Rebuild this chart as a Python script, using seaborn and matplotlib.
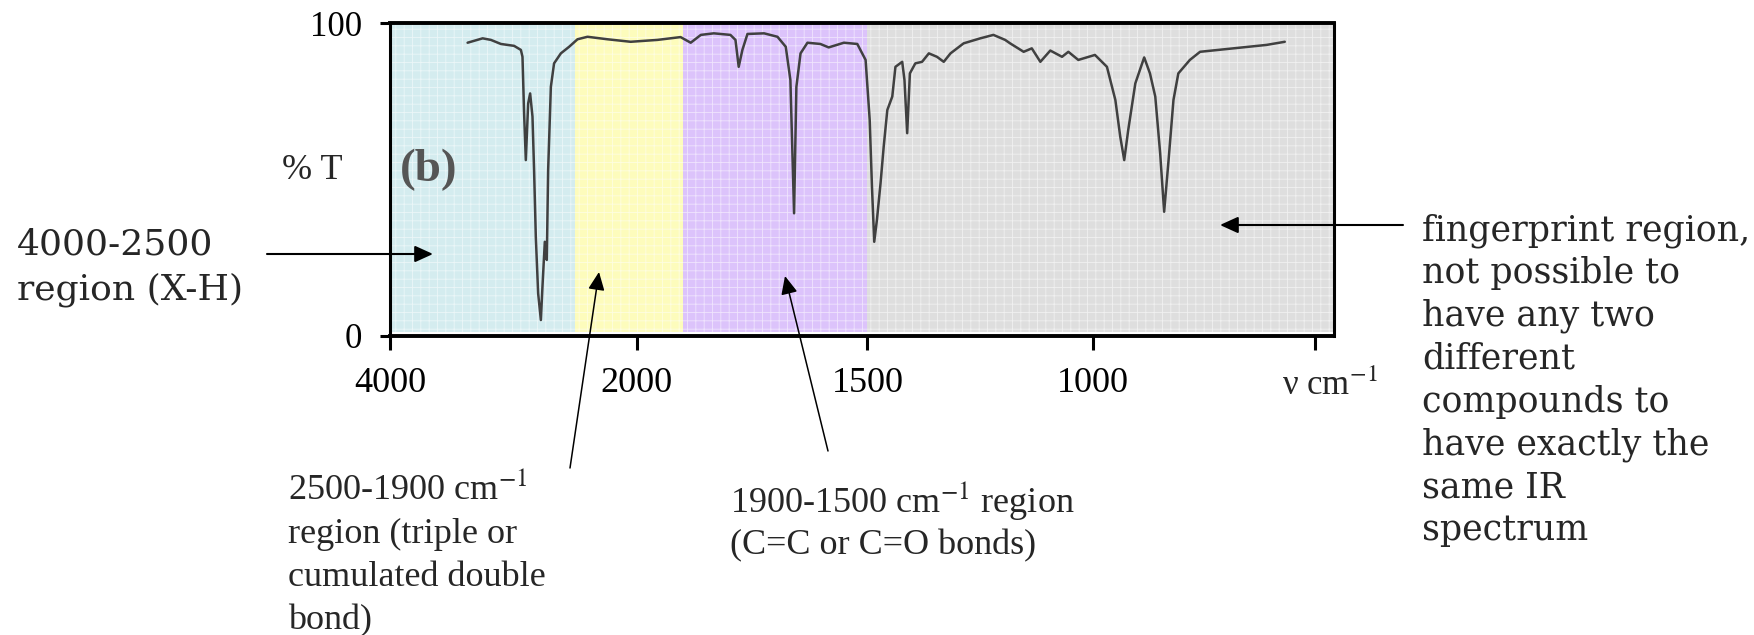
import numpy as np
import pandas as pd
import matplotlib
matplotlib.use('Agg')
import matplotlib.pyplot as plt
import seaborn as sns
from matplotlib.patches import FancyArrowPatch

# spectrum (cm-1, %T)
wavenumber = [3371, 3249, 3182, 3101, 2994, 2939, 2926, 2913, 2899, 2880, 2864, 2845,
              2832, 2818, 2799, 2777, 2764, 2745, 2729, 2718, 2696, 2670, 2615, 2548,
              2480, 2399, 2237, 2049, 1955, 1905, 1883, 1861, 1833, 1797, 1786, 1779,
              1771, 1760, 1724, 1695, 1677, 1667, 1659, 1654, 1645, 1630, 1602, 1584,
              1551, 1522, 1504, 1495, 1490, 1485, 1479, 1471, 1464, 1456, 1445, 1438,
              1423, 1418, 1412, 1406, 1394, 1379, 1364, 1346, 1331, 1316, 1287, 1250,
              1221, 1195, 1184, 1154, 1136, 1117, 1095, 1069, 1055, 1033, 996, 969,
              950, 939, 930, 921, 905, 885, 872, 860, 849, 840, 830, 819,
              808, 782, 759, 684, 609, 568]
transmittance = [93.7, 95.1, 94.6, 93.3, 92.7, 91.4, 89.2, 71.2, 56.2, 74.3, 77.5, 70.1,
                 53.0, 31.7, 13.6, 5.1, 15.8, 30.1, 24.3, 53.0, 79.6, 87.1, 90.3, 92.4,
                 94.8, 95.6, 94.8, 94.0, 94.6, 95.5, 93.7, 96.2, 96.7, 96.2, 94.6, 86.0,
                 91.4, 96.5, 96.7, 95.6, 92.4, 81.8, 39.2, 79.6, 90.3, 93.7, 93.3, 92.2,
                 93.7, 93.3, 88.2, 69.0, 47.7, 30.1, 37.1, 48.8, 60.5, 72.2, 76.5, 86.0,
                 87.6, 81.8, 64.8, 83.9, 87.1, 87.6, 90.3, 89.2, 87.6, 90.3, 93.5, 95.1,
                 96.2, 94.6, 93.5, 90.8, 91.9, 87.6, 91.2, 89.2, 90.8, 88.2, 89.8, 86.0,
                 75.4, 63.7, 56.2, 65.8, 80.7, 89.0, 83.9, 76.5, 58.4, 39.7, 56.2, 75.4,
                 83.9, 88.2, 90.8, 91.9, 93.0, 94.0]

region_edges = [4000, 2500, 1900, 1500, 457]
region_colors = ['#d4ecef', '#fdfcbc', '#dcc3fb', '#dedede']

x_ticks = [4000, 2000, 1500, 1000, 500]
x_tick_labels = ['4000', '2000', '1500', '1000', '']
y_ticks = [0, 100]

# chart paper scale: 4000-2000 compressed, below 2000 nearly linear
scale_nu = [0, 500, 1000, 1500, 2000, 4000]
scale_pos = [-222, 0, 222, 448, 679, 926]


def fwd(v):
    return np.interp(v, scale_nu, scale_pos)


def inv(u):
    return np.interp(u, scale_pos, scale_nu)


df = pd.DataFrame({'nu': wavenumber, 'T': transmittance})

sns.set_theme(style='white')
plt.rcParams['font.family'] = ['Liberation Serif', 'DejaVu Serif']
plt.rcParams['mathtext.fontset'] = 'stix'
plt.rcParams['hatch.linewidth'] = 0.6

W, H = 1754, 635
fig = plt.figure(figsize=(W / 100, H / 100), dpi=100)
ax = fig.add_axes([390 / W, 1 - 336 / H, 944 / W, 313 / H])

for x0, x1, c in zip(region_edges[:-1], region_edges[1:], region_colors):
    ax.axvspan(x0, x1, ymin=0.013, ymax=1, facecolor=c,
               edgecolor=(1, 1, 1, 0.55), hatch='++', linewidth=0)

sns.lineplot(data=df, x='nu', y='T', ax=ax, color='#404040', lw=1.8,
             sort=False, estimator=None)

ax.set_xscale('function', functions=(fwd, inv))
ax.set_xlim(4000, 457)
ax.set_ylim(0, 100)
ax.set_xlabel('')
ax.set_ylabel('')
ax.set_xticks(x_ticks)
ax.set_xticklabels(x_tick_labels)
ax.set_yticks(y_ticks)
ax.set_yticklabels([str(t) for t in y_ticks])
ax.minorticks_off()

for side in ['top', 'bottom']:
    ax.spines[side].set_linewidth(2.8)
for side in ['left', 'right']:
    ax.spines[side].set_linewidth(2.2)
for s in ax.spines.values():
    s.set_color('black')

ax.tick_params(axis='x', bottom=True, direction='out', length=10, width=2.2,
               labelsize=26, pad=12, colors='black')
ax.tick_params(axis='y', left=True, direction='out', length=7, width=2.2,
               labelsize=25, pad=13, colors='black')

ax.text(0.996, -0.19, r'ν cm$^{-1}$', transform=ax.transAxes, fontsize=25,
        ha='center', va='baseline')
ax.text(0.041, 0.53, '(b)', transform=ax.transAxes, fontsize=34,
        fontweight='bold', color='#555555', ha='center', va='center')
fig.text(312 / W, 1 - 179 / H, '% T', fontsize=26, ha='center', va='baseline')

# annotations
fig.text(17 / W, 1 - 228 / H, '4000-2500\nregion (X-H)', family=['DejaVu Serif'],
         fontsize=26, ha='left', va='top', linespacing=1.37)
fig.text(1422 / W, 1 - 213 / H,
         'fingerprint region,\nnot possible to\nhave any two\ndifferent\n'
         'compounds to\nhave exactly the\nsame IR\nspectrum',
         family=['DejaVu Serif'], fontsize=25, ha='left', va='top',
         linespacing=1.32)
fig.text(288 / W, 1 - 472 / H,
         '2500-1900 cm$^{-1}$\nregion (triple or\ncumulated double\nbond)',
         fontsize=26, ha='left', va='top', linespacing=1.42)
fig.text(730 / W, 1 - 479 / H, '1900-1500 cm$^{-1}$ region\n(C=C or C=O bonds)',
         fontsize=26, ha='left', va='top', linespacing=1.27)

arrows = [((267, 254), (433, 254), 1.5), ((570, 468), (599, 272), 1.1),
          ((828, 451), (785, 276), 1.1), ((1403, 225), (1220, 225), 1.5)]
for (x0, y0), (x1, y1), lw in arrows:
    fig.add_artist(FancyArrowPatch((x0 / W, 1 - y0 / H), (x1 / W, 1 - y1 / H),
                                   transform=fig.transFigure,
                                   arrowstyle='-|>,head_length=0.55,head_width=0.25',
                                   mutation_scale=20, lw=lw, color='black',
                                   shrinkA=0, shrinkB=0))

fig.savefig('out.png', dpi=100, facecolor='white')
